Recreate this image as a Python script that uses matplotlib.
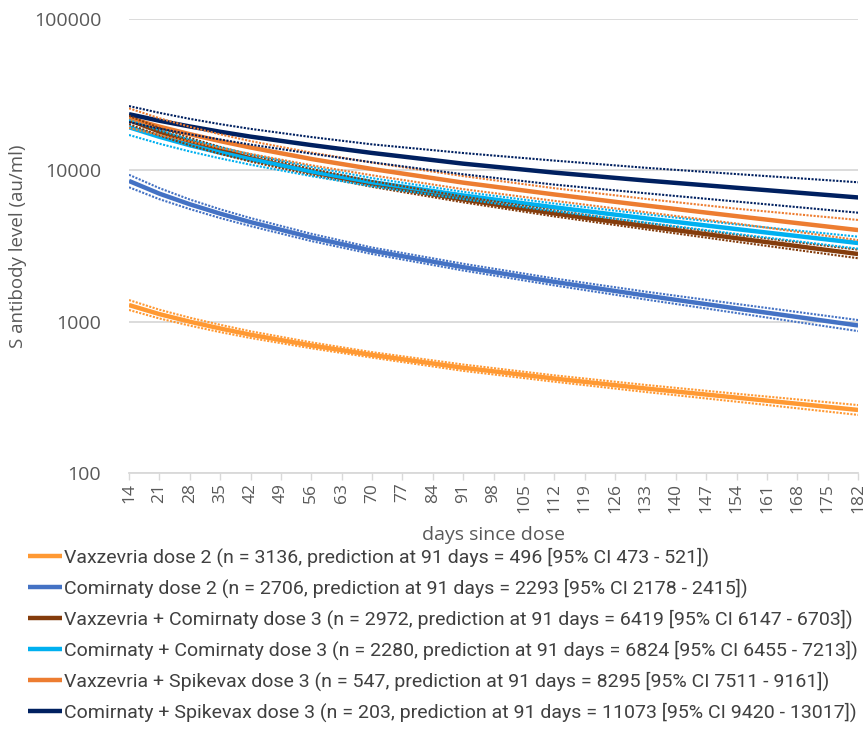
import numpy as np
import matplotlib
matplotlib.use('Agg')
from matplotlib import pyplot as plt

plt.rcParams['font.family'] = ['Open Sans', 'DejaVu Sans']

# model predictions (au/ml) with 95% CI, sampled on these days
days = [14, 21, 28, 35, 42, 56, 70, 91, 112, 133, 154, 182]

vax2 = [1288, 1122, 1000, 902, 820, 697, 603, 496, 421, 362, 315, 261]
vax2_lo = [1195, 1050, 942, 853, 780, 667, 579, 473, 401, 343, 296, 242]
vax2_hi = [1390, 1200, 1062, 954, 864, 730, 629, 521, 442, 382, 334, 281]

com2 = [8511, 7015, 5970, 5176, 4550, 3606, 2944, 2293, 1832, 1489, 1222, 944]
com2_lo = [7730, 6450, 5550, 4840, 4280, 3410, 2800, 2178, 1737, 1402, 1141, 866]
com2_hi = [9350, 7630, 6420, 5530, 4840, 3810, 3090, 2415, 1930, 1580, 1310, 1025]

vax_com3 = [21530, 18030, 15490, 13550, 12020, 9770, 8130, 6419, 5190, 4280, 3560, 2800]
vax_com3_lo = [20200, 17000, 14650, 12850, 11430, 9330, 7780, 6147, 4960, 4080, 3370, 2625]
vax_com3_hi = [22900, 19100, 16380, 14290, 12650, 10230, 8500, 6703, 5430, 4490, 3750, 2990]

com_com3 = [19270, 16670, 14660, 13090, 11830, 9840, 8360, 6824, 5700, 4820, 4090, 3310]
com_com3_lo = [17130, 15000, 13330, 12000, 10900, 9160, 7850, 6455, 5370, 4520, 3800, 3037]
com_com3_hi = [21500, 18400, 16000, 14200, 12750, 10540, 8890, 7213, 6040, 5130, 4390, 3645]

vax_spk3 = [22130, 19450, 17340, 15600, 14160, 11890, 10210, 8295, 6930, 5860, 4980, 4030]
vax_spk3_lo = [19100, 17100, 15500, 14050, 12850, 10800, 9280, 7511, 6290, 5290, 4450, 3460]
vax_spk3_hi = [25700, 22100, 19400, 17300, 15600, 13100, 11250, 9161, 7620, 6480, 5580, 4700]

com_spk3 = [23500, 21280, 19500, 17990, 16710, 14690, 13030, 11073, 9660, 8570, 7670, 6620]
com_spk3_lo = [20800, 18900, 17300, 16000, 14800, 12900, 11300, 9420, 8050, 7060, 6220, 5250]
com_spk3_hi = [26600, 24000, 21900, 20200, 18800, 16600, 14850, 13017, 11600, 10400, 9450, 8340]

labels = [
    'Vaxzevria dose 2 (n = 3136, prediction at 91 days = 496 [95% CI 473 - 521])',
    'Comirnaty dose 2 (n = 2706, prediction at 91 days = 2293 [95% CI 2178 - 2415])',
    'Vaxzevria + Comirnaty dose 3 (n = 2972, prediction at 91 days = 6419 [95% CI 6147 - 6703])',
    'Comirnaty + Comirnaty dose 3 (n = 2280, prediction at 91 days = 6824 [95% CI 6455 - 7213])',
    'Vaxzevria + Spikevax dose 3 (n = 547, prediction at 91 days = 8295 [95% CI 7511 - 9161])',
    'Comirnaty + Spikevax dose 3 (n = 203, prediction at 91 days = 11073 [95% CI 9420 - 13017])',
]
colors = ['#FF9933', '#4472C4', '#843C0C', '#00B0F0', '#ED7D31', '#002060']

series = [
    (vax2, vax2_lo, vax2_hi),
    (com2, com2_lo, com2_hi),
    (vax_com3, vax_com3_lo, vax_com3_hi),
    (com_com3, com_com3_lo, com_com3_hi),
    (vax_spk3, vax_spk3_lo, vax_spk3_hi),
    (com_spk3, com_spk3_lo, com_spk3_hi),
]

fig = plt.figure(figsize=(8.68, 7.49), dpi=100)
ax = fig.add_axes([0.1486, 0.3685, 0.84, 0.6061])

lines = []
for (mid, lo, hi), c, lab in zip(series, colors, labels):
    l, = ax.plot(days, mid, color=c, lw=3.2, label=lab, zorder=3, solid_capstyle='butt')
    lines.append(l)

# confidence bounds go on top of the fitted lines
for (mid, lo, hi), c in zip(series, colors):
    ax.plot(days, lo, color=c, lw=1.5, ls=(0, (1, 0.7)), zorder=4)
    ax.plot(days, hi, color=c, lw=1.5, ls=(0, (1, 0.7)), zorder=4)

ax.set_yscale('log')
ax.set_ylim(100, 100000)
ax.set_xlim(14, 182)
ax.set_yticks([100, 1000, 10000, 100000])
ax.set_yticklabels(['100', '1000', '10000', '100000'])
ax.yaxis.set_minor_locator(matplotlib.ticker.NullLocator())
ax.set_xticks(np.arange(14, 183, 7))
ax.set_xticklabels([str(d) for d in range(14, 183, 7)], rotation=90)

ax.grid(axis='y', color='#D9D9D9', lw=1.3, zorder=0)
for s in ['top', 'right', 'left']:
    ax.spines[s].set_visible(False)
ax.spines['bottom'].set_color('#D9D9D9')
ax.spines['bottom'].set_linewidth(1.3)
ax.tick_params(axis='y', length=0, pad=20, labelsize=14, labelcolor='#595959')
ax.tick_params(axis='x', length=5, color='#D9D9D9', width=1, pad=2, labelsize=12.5, labelcolor='#595959')

ax.set_xlabel('days since dose', fontsize=14, color='#595959')
ax.xaxis.set_label_coords(0.5, -0.116)
ax.set_ylabel('S antibody level (au/ml)', fontsize=13.5, color='#595959')
ax.yaxis.set_label_coords(-0.14, 0.5)

leg = fig.legend(handles=lines, loc='upper left', bbox_to_anchor=(28 / 868, 1 - 548 / 749),
                 frameon=False, borderpad=0, borderaxespad=0, handlelength=1.75,
                 handletextpad=0.1, labelspacing=0.6,
                 prop={'family': ['Roboto', 'DejaVu Sans'], 'size': 14})
for t in leg.get_texts():
    t.set_color('#404040')

fig.savefig('out.png', dpi=100)
